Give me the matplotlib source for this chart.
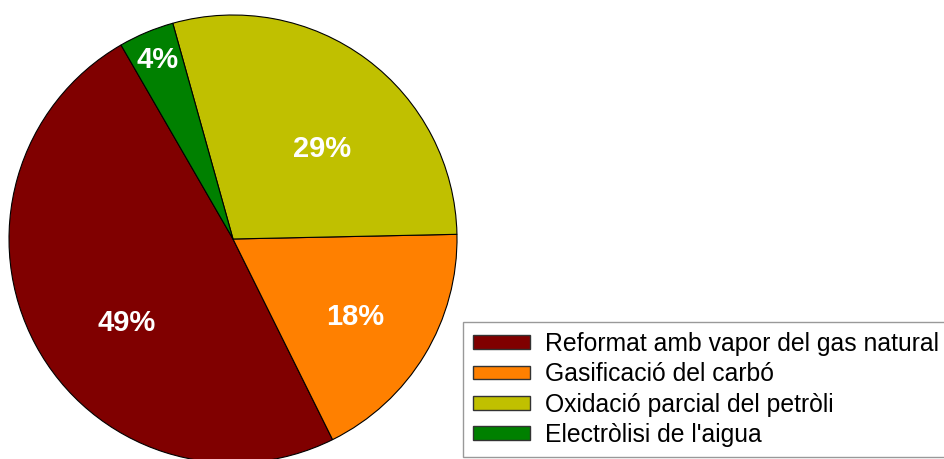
import matplotlib
matplotlib.use("Agg")
import matplotlib.pyplot as plt
import numpy as np

plt.rcParams['font.family'] = ['Liberation Sans', 'DejaVu Sans']

labels = ["Reformat amb vapor del gas natural", "Gasificació del carbó",
          "Oxidació parcial del petròli", "Electròlisi de l'aigua"]
values = [49, 18, 29, 4]
colors = ["#800000", "#FF8000", "#C0C000", "#008000"]
pct_labels = ["49%", "18%", "29%", "4%"]
# label offsets from pie centre, in units of the radius
label_dx = [-0.473, 0.545, 0.397, -0.335]
label_dy = [-0.362, -0.339, 0.411, 0.810]

fig = plt.figure(figsize=(9.44, 4.59), dpi=100)
ax = fig.add_axes([0, 0, 1, 1])

cx, cy, R = 233, 220, 224
wedges, _ = ax.pie(values, colors=colors, startangle=120, counterclock=True,
                   center=(cx, cy), radius=R, frame=True,
                   wedgeprops=dict(edgecolor='black', linewidth=0.8))
ax.set_xlim(0, 944)
ax.set_ylim(0, 459)
ax.set_aspect('equal')
ax.axis('off')

cap_half = 10.5
for t, dx, dy in zip(pct_labels, label_dx, label_dy):
    ax.text(cx + dx * R, cy + dy * R - cap_half, t,
            ha='center', va='baseline', color='white', fontsize=21, fontweight='bold')

leg = fig.legend(wedges, labels, loc='upper left', bbox_to_anchor=(463 / 944, 137 / 459),
                 bbox_transform=fig.transFigure, borderaxespad=0, fontsize=17.8,
                 frameon=True, fancybox=False, edgecolor='#808080',
                 handlelength=2.32, handleheight=0.48, handletextpad=0.6,
                 labelspacing=0.26, borderpad=0.4)
leg.get_frame().set_linewidth(1.0)
for h in leg.legend_handles:
    h.set_edgecolor('#333333')
    h.set_linewidth(1.0)

fig.savefig("out.png", dpi=100)
